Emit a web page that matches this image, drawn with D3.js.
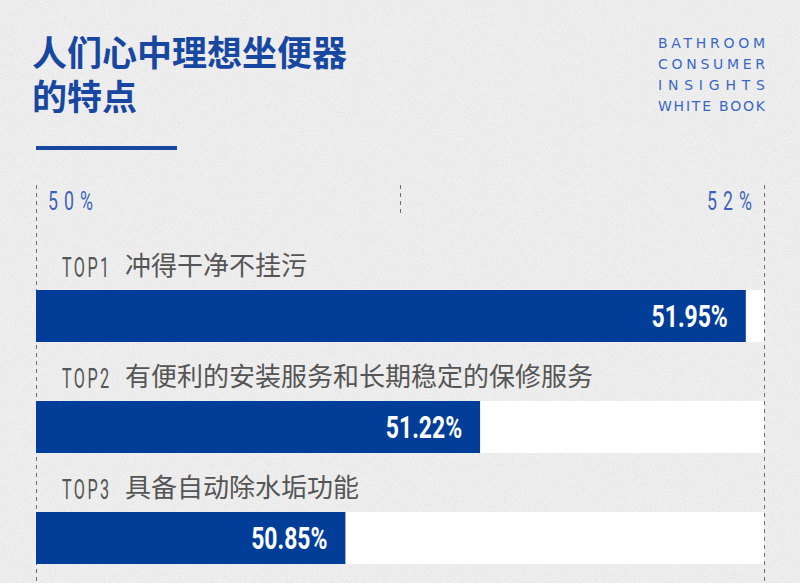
<!DOCTYPE html>
<html><head><meta charset="utf-8">
<script src="https://cdn.jsdelivr.net/npm/d3@7"></script>
<style>
html,body{margin:0;padding:0;background:#eeeeee;}
svg{display:block;}
</style></head>
<body>
<svg id="chart" width="800" height="583"></svg>
<script>
const titleLines = ["人们心中理想坐便器", "的特点"];
const brandLines = ["BATHROOM", "CONSUMER", "INSIGHTS", "WHITE BOOK"];
const ranks = ["TOP1", "TOP2", "TOP3"];
const categories = ["冲得干净不挂污", "有便利的安装服务和长期稳定的保修服务", "具备自动除水垢功能"];
const values = [51.95, 51.22, 50.85];
const domain = [50, 52];
const tickLabels = ["50%", "52%"];

const W = 800, H = 583;
const svg = d3.select("#chart");
const defs = svg.append("defs");
const f = defs.append("filter").attr("id","paper").attr("x",0).attr("y",0).attr("width","100%").attr("height","100%");
f.append("feTurbulence").attr("type","fractalNoise").attr("baseFrequency","0.9").attr("numOctaves",2).attr("seed",3).attr("result","n");
f.append("feColorMatrix").attr("in","n").attr("type","matrix")
 .attr("values","0 0 0 0 0.55  0 0 0 0 0.55  0 0 0 0 0.55  0 0 0 -2.2 1.2").attr("result","m");
f.append("feComposite").attr("in","m").attr("in2","SourceGraphic").attr("operator","over");

svg.append("rect").attr("width",W).attr("height",H).attr("fill","#efefef");
svg.append("rect").attr("width",W).attr("height",H).attr("fill","#efefef").attr("filter","url(#paper)").attr("opacity",0.35);

const blue = "#023e98";
const titleBlue = "#1847a0";
const condensed = "Roboto, 'DejaVu Sans', sans-serif";

// Title (one text element, wrapped into two lines)
const title = svg.append("text")
  .attr("font-family","'Noto Sans CJK SC', sans-serif")
  .attr("font-weight","bold").attr("font-size",35)
  .attr("fill",titleBlue);
title.selectAll("tspan").data(titleLines).join("tspan")
  .attr("x",32).attr("y",(d,i)=>66+i*44)
  .text(d=>d);
svg.append("rect").attr("x",36).attr("y",146).attr("width",141).attr("height",4).attr("fill",titleBlue);

// Brand block
svg.selectAll("text.brand").data(brandLines).join("text")
  .attr("class","brand")
  .attr("x",658).attr("y",(d,i)=>48+i*21)
  .attr("font-family","'DejaVu Sans', sans-serif")
  .attr("font-size",14).attr("fill","#3b68bf")
  .attr("textLength",107).attr("lengthAdjust","spacing")
  .text(d=>d);

// Scale
const x = d3.scaleLinear().domain(domain).range([36, 764]);

// Dashed grid lines
const gridData = [
  {v:50, y1:185, y2:H},
  {v:51, y1:185, y2:213},
  {v:52, y1:185, y2:H}
];
svg.selectAll("line.grid").data(gridData).join("line")
  .attr("class","grid")
  .attr("x1",d=>x(d.v)+0.5).attr("x2",d=>x(d.v)+0.5)
  .attr("y1",d=>d.y1).attr("y2",d=>d.y2)
  .attr("stroke","#6f6f6f").attr("stroke-width",1).attr("stroke-dasharray","4,4");

// Tick labels (condensed via horizontal scale)
const tsx = 0.68;
svg.selectAll("text.tick").data(tickLabels).join("text")
  .attr("class","tick")
  .attr("transform",(d,i)=>`translate(${i===0 ? x(domain[0])+12 : x(domain[1])-57},210) scale(${tsx},1)`)
  .attr("font-family",condensed)
  .attr("font-size",26).attr("fill","#3b63b5")
  .attr("textLength",45/tsx).attr("lengthAdjust","spacing")
  .text(d=>d);

// Bars
const y = d3.scaleBand().domain(d3.range(values.length)).range([261, 594]);
const barH = 52;
const g = svg.selectAll("g.row").data(values).join("g").attr("class","row")
  .attr("transform",(d,i)=>`translate(0,${y(i)})`);

g.append("rect").attr("x",x(domain[0])).attr("y",29)
  .attr("width",x(domain[1])-x(domain[0])).attr("height",barH).attr("fill","#ffffff");
g.append("rect").attr("x",x(domain[0])).attr("y",29)
  .attr("width",d=>x(d)-x(domain[0])).attr("height",barH).attr("fill",blue);

const vsx = 0.74;
g.append("text")
  .attr("transform",d=>`translate(${x(d)-18},${29+barH/2+11}) scale(${vsx},1)`)
  .attr("text-anchor","end")
  .attr("font-family",condensed)
  .attr("font-weight","bold").attr("font-size",31).attr("fill","#ffffff")
  .text(d=>d.toFixed(2)+"%");

const rsx = 0.6;
g.append("text")
  .attr("transform",`translate(62,16) scale(${rsx},1)`)
  .attr("font-family",condensed)
  .attr("font-size",27).attr("fill","#555555")
  .attr("letter-spacing",4)
  .text((d,i)=>ranks[i]);

g.append("text").attr("x",125).attr("y",14)
  .attr("font-family","'Noto Sans CJK SC', sans-serif")
  .attr("font-size",26).attr("fill","#555555")
  .text((d,i)=>categories[i]);
</script>
</body></html>
